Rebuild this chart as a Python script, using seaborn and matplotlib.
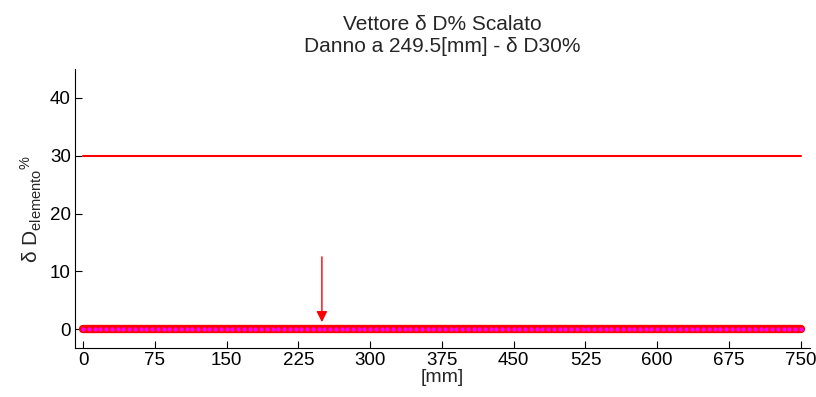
import numpy as np
import pandas as pd
import matplotlib
matplotlib.use("Agg")
import matplotlib.pyplot as plt
import seaborn as sns

# element positions [mm] and damage vector values [%]
positions = np.arange(0, 750.1, 6.0)
delta_d = np.zeros(len(positions))
threshold_x = [0, 750]
threshold_y = [30, 30]
damage_pos = 249.5
arrow_top = 12.5
x_ticks = [0, 75, 150, 225, 300, 375, 450, 525, 600, 675, 750]
y_ticks = [0, 10, 20, 30, 40]

sns.set_theme(style="ticks")
plt.rcParams["font.family"] = ["Liberation Sans", "DejaVu Sans"]
plt.rcParams["mathtext.fontset"] = "custom"
plt.rcParams["mathtext.rm"] = "Liberation Sans"
plt.rcParams["mathtext.it"] = "Liberation Sans"

df = pd.DataFrame({"x": positions, "y": delta_d})

fig = plt.figure(figsize=(8.16, 3.97), dpi=100)
ax = fig.add_axes([0.092, 0.123, 0.901, 0.703])

# thick red band under the element values
ax.plot(df["x"], df["y"], color="#ff0000", linewidth=6, solid_capstyle="round",
        zorder=2)
sns.scatterplot(data=df, x="x", y="y", ax=ax, color="#ff00ff", s=9,
                linewidth=0, zorder=3)
ax.plot(threshold_x, threshold_y, color="red", linewidth=1.5, zorder=2)

ax.annotate("", xy=(damage_pos, 1.2), xytext=(damage_pos, arrow_top),
            arrowprops=dict(arrowstyle="-|>", color="red", lw=1.0,
                            mutation_scale=16, shrinkA=0, shrinkB=0),
            zorder=4)

ax.set_xlim(-8.5, 760)
ax.set_ylim(-3.3, 45)
ax.set_xticks(x_ticks)
ax.set_yticks(y_ticks)
ax.tick_params(direction="in", length=5, width=0.8, labelsize=13.5,
               colors="black", pad=3)
for s in ["top", "right"]:
    ax.spines[s].set_visible(False)
for s in ["left", "bottom"]:
    ax.spines[s].set_color("black")
    ax.spines[s].set_linewidth(0.8)

ax.set_xlabel("[mm]", fontsize=14, labelpad=0)
ax.set_ylabel(r"δ D$_{\mathrm{elemento}}$$^{\%}$", fontsize=15, labelpad=4)
ax.set_title("Vettore δ D% Scalato\nDanno a 249.5[mm] - δ D30%", fontsize=15,
             linespacing=1.2, pad=12)

fig.savefig("out.png", dpi=100)
